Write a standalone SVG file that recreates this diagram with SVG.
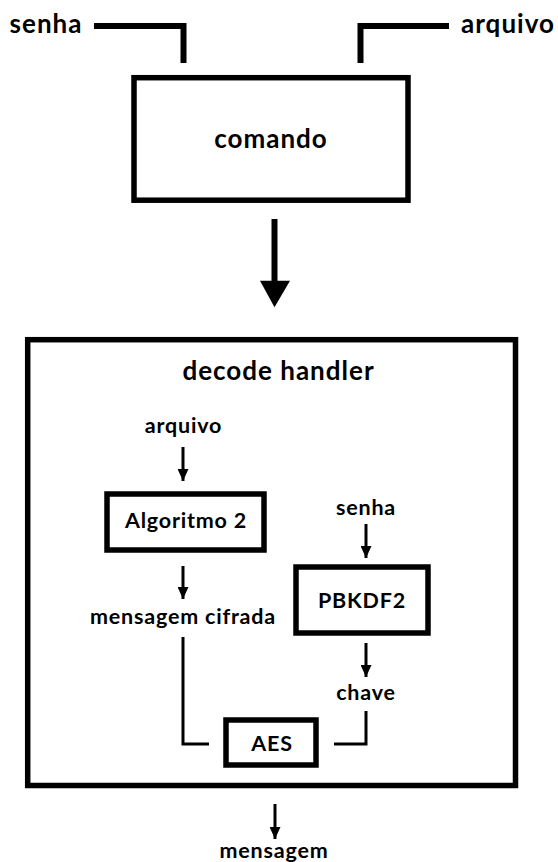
<svg xmlns="http://www.w3.org/2000/svg" width="558" height="862" viewBox="0 0 558 862">
  <defs>
    <style>
      text { font-family: Lato, "Open Sans", sans-serif; font-weight: 700; fill: #000; text-anchor: middle; }
      .big { font-size: 26px; letter-spacing: 1px; }
      .small { font-size: 21.5px; letter-spacing: 0.8px; }
      .box { fill: #fff; stroke: #000; stroke-width: 5.5; }
      .heavy { fill: none; stroke: #000; stroke-width: 6; }
      .thin { fill: none; stroke: #000; stroke-width: 3; }
    </style>
    <marker id="tip" viewBox="0 0 12 11" refX="12" refY="5.5" markerUnits="userSpaceOnUse" markerWidth="12" markerHeight="11" orient="auto">
      <path d="M0,0 L12,5.5 L0,11 Z" fill="#000"/>
    </marker>
  </defs>
  <rect width="558" height="862" fill="#fff"/>

  <!-- input labels -->
  <g id="in-senha"><text class="big" x="46" y="33">senha</text></g>
  <g id="in-arquivo"><text class="big" x="508" y="33">arquivo</text></g>

  <g id="comando">
    <rect class="box" x="134" y="77.7" width="274" height="122.5" stroke-width="6"/>
    <text class="big" x="271" y="148.3">comando</text>
  </g>

  <g id="decode-handler">
    <rect class="box" x="27.7" y="339.7" width="487.8" height="445.8" stroke-width="6"/>
    <text class="big" x="278.5" y="380">decode handler</text>
  </g>

  <g id="arquivo"><text class="small" x="183.5" y="433">arquivo</text></g>
  <g id="algoritmo2">
    <rect class="box" x="107" y="494" width="157" height="56"/>
    <text class="small" x="186" y="528">Algoritmo 2</text>
  </g>
  <g id="senha"><text class="small" x="366" y="515">senha</text></g>
  <g id="pbkdf2">
    <rect class="box" x="296" y="567" width="132" height="66"/>
    <text class="small" x="362" y="608">PBKDF2</text>
  </g>
  <g id="mensagem-cifrada"><text class="small" x="183" y="624">mensagem cifrada</text></g>
  <g id="chave"><text class="small" x="366" y="700">chave</text></g>
  <g id="aes">
    <rect class="box" x="226" y="720" width="90" height="45"/>
    <text class="small" x="272" y="751">AES</text>
  </g>
  <g id="mensagem"><text class="small" x="274" y="858">mensagem</text></g>

  <g id="connectors">
    <polyline class="heavy" points="94,26 183.5,26 183.5,63"/>
    <polyline class="heavy" points="449,26 360.5,26 360.5,63"/>
    <line class="heavy" x1="274.5" y1="219" x2="274.5" y2="282"/>
    <path d="M260,280.7 L290,280.7 L274.5,307.3 Z" fill="#000"/>
    <line class="thin" x1="183" y1="447" x2="183" y2="481" marker-end="url(#tip)"/>
    <line class="thin" x1="366" y1="524" x2="366" y2="558" marker-end="url(#tip)"/>
    <line class="thin" x1="183" y1="566" x2="183" y2="599" marker-end="url(#tip)"/>
    <line class="thin" x1="366" y1="643" x2="366" y2="677" marker-end="url(#tip)"/>
    <polyline class="thin" points="183,637 183,744 209,744"/>
    <polyline class="thin" points="334,744 366,744 366,711"/>
    <line class="thin" x1="275" y1="804" x2="275" y2="839" marker-end="url(#tip)"/>
  </g>
</svg>
